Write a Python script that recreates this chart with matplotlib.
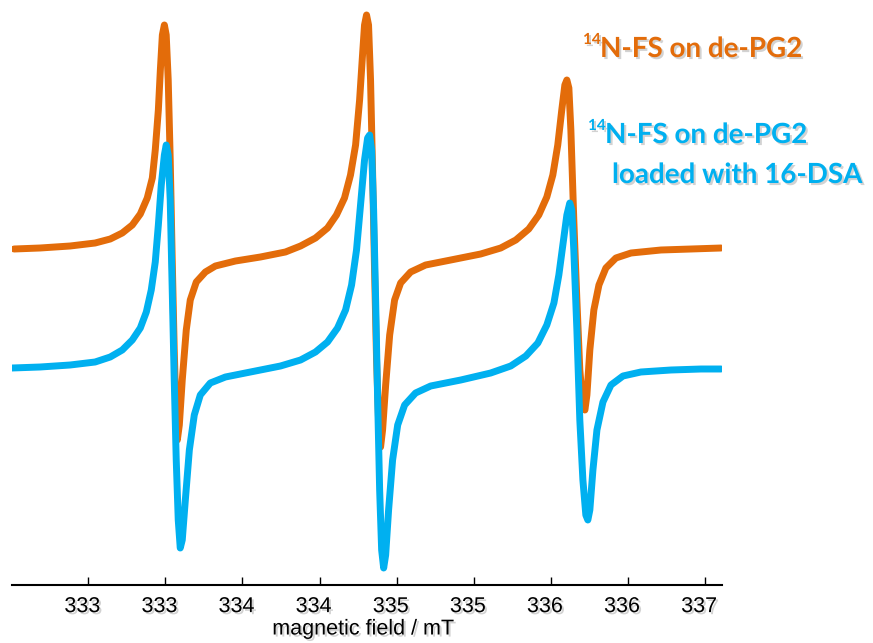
import matplotlib
matplotlib.use("Agg")
import matplotlib.pyplot as plt
import matplotlib.patheffects as pe
from matplotlib.transforms import ScaledTranslation

# magnetic field (mT) and signal (a.u.) of the two EPR spectra
field_fs = [332.269, 332.438, 332.633, 332.795, 332.893, 332.971, 333.036, 333.088,
            333.133, 333.166, 333.185, 333.205, 333.218, 333.231, 333.244, 333.256,
            333.269, 333.282, 333.295, 333.308, 333.321, 333.328, 333.341, 333.360,
            333.386, 333.412, 333.451, 333.510, 333.575, 333.705, 333.867, 334.029,
            334.127, 334.224, 334.302, 334.360, 334.412, 334.451, 334.484, 334.510,
            334.529, 334.542, 334.555, 334.568, 334.581, 334.594, 334.607, 334.620,
            334.633, 334.646, 334.659, 334.679, 334.705, 334.737, 334.776, 334.841,
            334.938, 335.101, 335.295, 335.425, 335.523, 335.607, 335.672, 335.724,
            335.763, 335.795, 335.821, 335.841, 335.854, 335.867, 335.880, 335.899,
            335.919, 335.938, 335.958, 335.971, 335.984, 336.003, 336.029, 336.062,
            336.107, 336.172, 336.270, 336.464, 336.659, 336.854]
signal_fs = [1.18, 1.19, 1.21, 1.24, 1.28, 1.34, 1.42, 1.53,
             1.69, 1.89, 2.17, 2.57, 2.97, 3.32, 3.42, 3.32,
             2.87, 2.07, 1.07, 0.17, -0.53, -0.73, -0.58, -0.13,
             0.37, 0.67, 0.85, 0.95, 1.01, 1.06, 1.10, 1.15,
             1.21, 1.29, 1.39, 1.52, 1.69, 1.92, 2.22, 2.67,
             3.12, 3.42, 3.52, 3.42, 2.87, 1.97, 0.97, 0.07,
             -0.53, -0.80, -0.63, -0.18, 0.32, 0.67, 0.84, 0.95,
             1.02, 1.07, 1.13, 1.19, 1.27, 1.38, 1.52, 1.70,
             1.92, 2.22, 2.57, 2.82, 2.87, 2.79, 2.37, 1.47,
             0.67, -0.03, -0.38, -0.43, -0.28, 0.17, 0.57, 0.82,
             0.99, 1.09, 1.14, 1.17, 1.18, 1.19]

field_dsa = [332.256, 332.438, 332.633, 332.795, 332.893, 332.971, 333.036, 333.088,
             333.127, 333.159, 333.185, 333.205, 333.224, 333.244, 333.256, 333.269,
             333.282, 333.295, 333.308, 333.321, 333.334, 333.347, 333.360, 333.380,
             333.406, 333.438, 333.477, 333.542, 333.640, 333.802, 333.997, 334.127,
             334.224, 334.302, 334.367, 334.419, 334.458, 334.490, 334.516, 334.542,
             334.562, 334.575, 334.588, 334.601, 334.614, 334.627, 334.640, 334.653,
             334.666, 334.679, 334.698, 334.724, 334.757, 334.802, 334.873, 334.971,
             335.166, 335.360, 335.490, 335.588, 335.666, 335.724, 335.770, 335.802,
             335.828, 335.854, 335.873, 335.886, 335.899, 335.919, 335.938, 335.958,
             335.977, 335.990, 336.003, 336.023, 336.049, 336.088, 336.140, 336.218,
             336.334, 336.529, 336.724, 336.854]
signal_dsa = [-0.01, 0.00, 0.02, 0.05, 0.10, 0.17, 0.27, 0.39,
              0.55, 0.77, 1.05, 1.42, 1.82, 2.12, 2.22, 2.12,
              1.67, 0.77, -0.13, -0.93, -1.53, -1.81, -1.73, -1.33,
              -0.83, -0.48, -0.28, -0.16, -0.10, -0.05, 0.01, 0.07,
              0.15, 0.25, 0.39, 0.57, 0.82, 1.17, 1.62, 2.07,
              2.29, 2.32, 2.17, 1.57, 0.67, -0.33, -1.23, -1.83,
              -2.01, -1.88, -1.43, -0.93, -0.58, -0.38, -0.26, -0.19,
              -0.13, -0.06, 0.01, 0.11, 0.24, 0.42, 0.64, 0.92,
              1.22, 1.52, 1.64, 1.57, 1.17, 0.37, -0.53, -1.13,
              -1.48, -1.53, -1.43, -1.03, -0.63, -0.35, -0.18, -0.09,
              -0.05, -0.03, -0.02, -0.02]

field_ticks = [332.75, 333.25, 333.75, 334.25, 334.75, 335.25, 335.75, 336.25, 336.75]

ORANGE = "#E36C0A"
BLUE = "#00B0F0"

fig = plt.figure(figsize=(8.73, 6.43), dpi=100)
ax = fig.add_axes([12 / 873, 58 / 643, 710 / 873, 580 / 643])

line_kw = dict(lw=5, solid_capstyle="round", solid_joinstyle="round")
ax.plot(field_fs, signal_fs, color=ORANGE, **line_kw)
ax.plot(field_dsa, signal_dsa, color=BLUE, **line_kw)

ax.set_xlim(332.256, 336.860)
ax.set_ylim(-2.18, 3.62)

for s in ["top", "right", "left"]:
    ax.spines[s].set_visible(False)
ax.spines["bottom"].set_linewidth(1.5)
ax.set_yticks([])

shadow = [pe.withSimplePatchShadow(offset=(1.5, -1.5), shadow_rgbFace="0.5", alpha=0.35)]
tick_font = ["Liberation Sans", "DejaVu Sans"]

ax.set_xticks(field_ticks)
ax.set_xticklabels(["%.0f" % t for t in field_ticks])
ax.tick_params(axis="x", direction="in", length=6, width=1, pad=8)
# labels sit slightly left of their ticks
shift = ScaledTranslation(-6 / 100, 0, fig.dpi_scale_trans)
for lbl in ax.get_xticklabels():
    lbl.set_family(tick_font)
    lbl.set_fontsize(15.5)
    lbl.set_path_effects(shadow)
    lbl.set_transform(lbl.get_transform() + shift)
ax.set_xlabel("magnetic field / mT", family=tick_font, fontsize=15.5, labelpad=1,
              path_effects=shadow)
ax.xaxis.label.set_transform(ax.xaxis.label.get_transform()
                             + ScaledTranslation(-4 / 100, 0, fig.dpi_scale_trans))

# sample labels
lab_kw = dict(family=["Lato", "DejaVu Sans"], weight="bold", va="baseline",
              path_effects=shadow)
def px(x, y):
    return x / 873, 1 - y / 643

fig.text(*px(583, 44), "14", color=ORANGE, fontsize=11, **lab_kw)
fig.text(*px(600, 57), "N-FS on de-PG2", color=ORANGE, fontsize=20, **lab_kw)
fig.text(*px(588, 130), "14", color=BLUE, fontsize=11, **lab_kw)
fig.text(*px(605, 143), "N-FS on de-PG2", color=BLUE, fontsize=20, **lab_kw)
fig.text(*px(612, 183), "loaded with 16-DSA", color=BLUE, fontsize=20, **lab_kw)

fig.savefig("out.png", dpi=100)
